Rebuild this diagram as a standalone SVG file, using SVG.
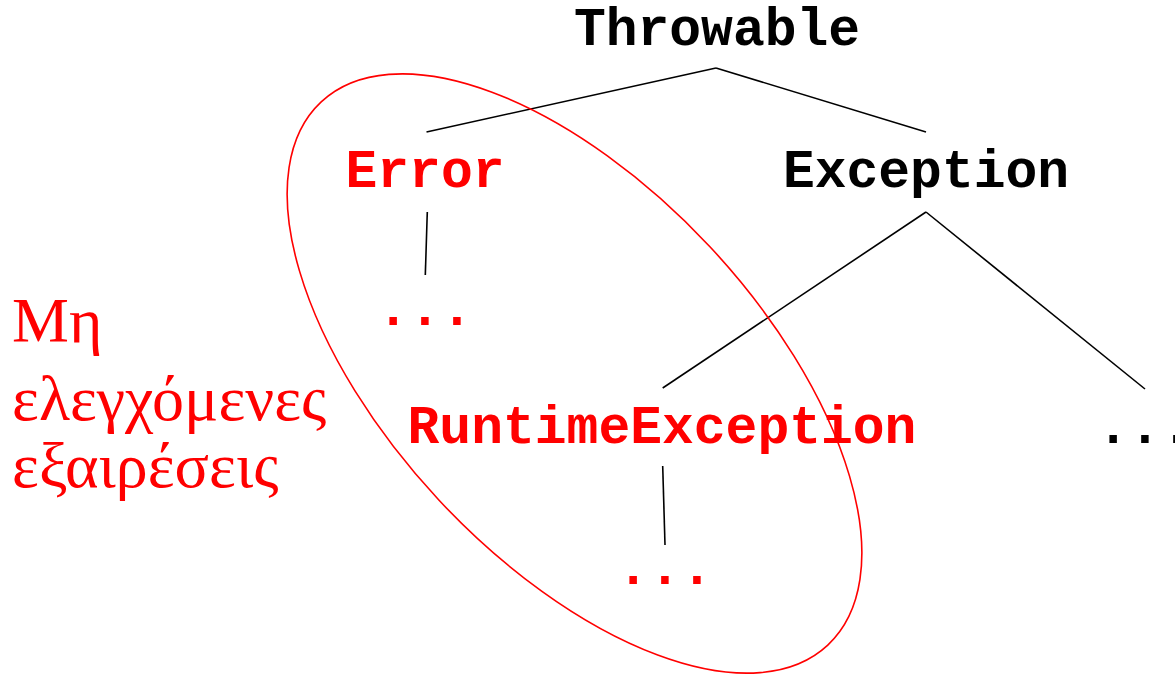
<svg xmlns="http://www.w3.org/2000/svg" width="1175" height="674" viewBox="0 0 1175 674">
<style>
.code{font-family:"Liberation Mono","Courier New",monospace;font-weight:bold;font-size:53px;text-anchor:middle}
.blk{fill:#000}
.red{fill:#ff0000}
.greek{font-family:"Liberation Serif","Times New Roman",serif;font-size:64px;fill:#ff0000}
.edge{stroke:#000;stroke-width:1.6;fill:none}
</style>
<rect width="1175" height="674" fill="#fff"/>
<g id="connectors">
<line class="edge" x1="716" y1="68" x2="426.5" y2="132"/>
<line class="edge" x1="716" y1="68" x2="926" y2="132"/>
<line class="edge" x1="427.3" y1="212" x2="425.3" y2="275"/>
<line class="edge" x1="926" y1="212" x2="662.7" y2="388"/>
<line class="edge" x1="926" y1="212" x2="1145" y2="389"/>
<line class="edge" x1="662.7" y1="466" x2="665" y2="545"/>
</g>
<g id="group-unchecked">
<ellipse cx="574.5" cy="373.5" rx="371.4" ry="185.5" transform="rotate(47 574.5 373.5)" fill="none" stroke="#ff0000" stroke-width="1.6"/>
</g>
<g id="label-unchecked">
<text class="greek" x="12" y="342">Μη</text>
<text class="greek" x="12" y="420">ελεγχόμενες</text>
<text class="greek" x="12" y="487">εξαιρέσεις</text>
</g>
<g id="node-throwable"><text class="code blk" x="717" y="45">Throwable</text></g>
<g id="node-error"><text class="code red" x="425" y="187">Error</text></g>
<g id="node-exception"><text class="code blk" x="926" y="187">Exception</text></g>
<g id="node-error-more"><text class="code red" x="425" y="325">...</text></g>
<g id="node-runtime"><text class="code red" x="662" y="443">RuntimeException</text></g>
<g id="node-runtime-more"><text class="code red" x="665" y="584">...</text></g>
<g id="node-exception-more"><text class="code blk" x="1145" y="443">...</text></g>
</svg>
